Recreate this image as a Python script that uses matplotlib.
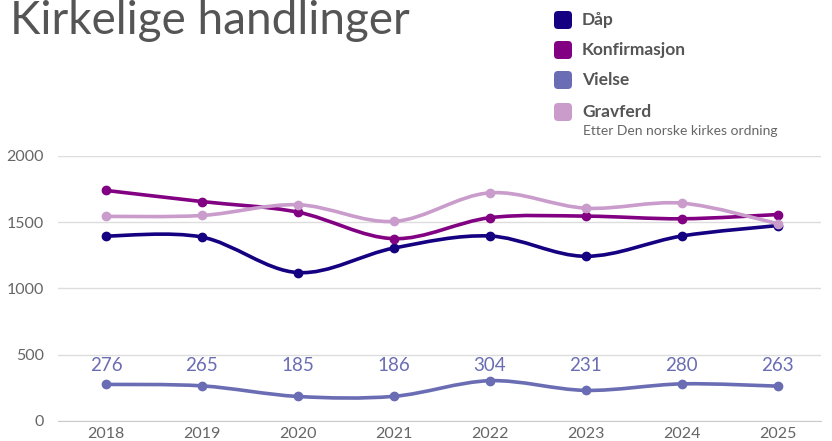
import numpy as np
import matplotlib.pyplot as plt
from matplotlib.path import Path
from matplotlib.patches import PathPatch, FancyBboxPatch

years = ['2018', '2019', '2020', '2021', '2022', '2023', '2024', '2025']
daap = [1396, 1388, 1120, 1305, 1396, 1243, 1396, 1475]
konfirmasjon = [1740, 1656, 1576, 1376, 1534, 1546, 1526, 1558]
vielse = [276, 265, 185, 186, 304, 231, 280, 263]
gravferd = [1544, 1551, 1632, 1506, 1722, 1606, 1644, 1489]

series_names = ['Dåp', 'Konfirmasjon', 'Vielse', 'Gravferd']
colors = ['#140080', '#820082', '#6a6db3', '#c99ccb']

title = 'Kirkelige handlinger'
subtitle = 'Etter Den norske kirkes ordning'

plt.rcParams['font.family'] = ['Lato', 'DejaVu Sans']


def spline_path(xs, ys):
    # uniform catmull-rom as cubic bezier segments
    n = len(xs)
    px = list(xs)
    py = list(ys)
    verts = [(px[0], py[0])]
    codes = [Path.MOVETO]
    for i in range(n - 1):
        i0 = max(i - 1, 0)
        i3 = min(i + 2, n - 1)
        c1 = (px[i] + (px[i + 1] - px[i0]) / 6, py[i] + (py[i + 1] - py[i0]) / 6)
        c2 = (px[i + 1] - (px[i3] - px[i]) / 6, py[i + 1] - (py[i3] - py[i]) / 6)
        verts += [c1, c2, (px[i + 1], py[i + 1])]
        codes += [Path.CURVE4] * 3
    return Path(verts, codes)


fig = plt.figure(figsize=(8.32, 4.41), dpi=100)
ax = fig.add_axes([0.0697, 0.0454, 0.917, 0.6009])

x = np.arange(len(years))
all_series = [daap, konfirmasjon, vielse, gravferd]
# draw order: later series on top
for vals, col, z in zip(all_series, colors, [3, 4, 2, 5]):
    p = spline_path(x, vals)
    ax.add_patch(PathPatch(p, facecolor='none', edgecolor=col, lw=2.6,
                           capstyle='round', joinstyle='round', zorder=z))
    ax.plot(x, vals, 'o', color=col, ms=6, zorder=z)

for i, v in enumerate(vielse):
    ax.text(i, 420, str(v), ha='center', va='center', fontsize=13.5,
            color=colors[2])

ax.set_xlim(-0.5, 7.45)
ax.set_ylim(0, 2000)
ax.set_yticks([0, 500, 1000, 1500, 2000])
ax.set_xticks(x)
ax.set_xticklabels(years)
ax.grid(axis='y', color='#dddddd', lw=1)
ax.set_axisbelow(True)
for s in ['top', 'right', 'left']:
    ax.spines[s].set_visible(False)
ax.spines['bottom'].set_color('#cccccc')
ax.tick_params(axis='y', length=0, colors='#666666', labelsize=11.5, pad=10)
ax.tick_params(axis='x', length=0, colors='#666666', labelsize=11.5, pad=4)

fig.text(0.012, 0.952, title, fontsize=33, color='#555555', va='center',
         ha='left')

# legend with rounded squares (positions in inches from bottom-left)
ly = [20, 50, 80, 112]
H = 4.41
for name, col, yy in zip(series_names, colors, ly):
    box = FancyBboxPatch((5.54, H - (yy + 9) / 100), 0.18, 0.18,
                         boxstyle='round,pad=0,rounding_size=0.04',
                         transform=fig.dpi_scale_trans, facecolor=col,
                         edgecolor='none')
    fig.patches.append(box)
    fig.text(582 / 832, 1 - yy / 441, name, fontsize=12.5, fontweight='bold',
             color='#555555', va='center', ha='left')
fig.text(583 / 832, 1 - 131 / 441, subtitle, fontsize=10, color='#666666',
         va='center', ha='left')

fig.savefig('out.png', dpi=100)
